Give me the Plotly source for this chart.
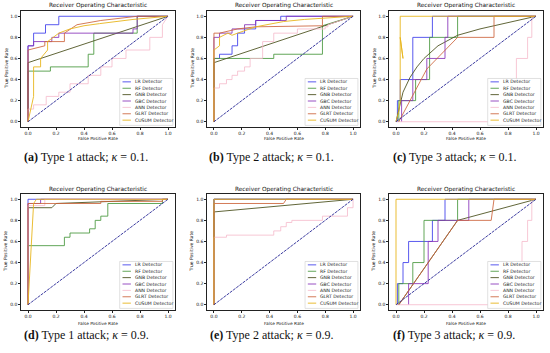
import plotly.graph_objects as go

W, H = 550, 353

DETECTORS = ["LR", "RF", "GNB", "GBC", "ANN", "GLRT", "CUSUM"]
LEGEND_NAMES = [d + " Detector" for d in DETECTORS]
TICKS = [0.0, 0.2, 0.4, 0.6, 0.8, 1.0]
TICK_LABELS = ["0.0", "0.2", "0.4", "0.6", "0.8", "1.0"]
CHANCE = [0.0, 1.0]

# ---------- (a) Type 1 attack, kappa = 0.1 ----------
a_fpr = {
    "LR": [0, 0, 0.04, 0.04, 0.125, 0.125, 0.22, 0.22, 1],
    "RF": [0, 0, 0.16, 0.16, 0.43, 0.43, 0.47, 0.47, 0.78, 0.78, 1],
    "GNB": [0, 0, 1],
    "GBC": [0, 0, 0.04, 0.04, 0.17, 0.17, 0.22, 0.22, 0.75, 0.75, 0.78, 0.78, 1],
    "ANN": [0, 0, 0.04, 0.04, 0.13, 0.13, 0.22, 0.22, 0.3, 0.3, 0.43, 0.43, 0.52, 0.52, 0.6, 0.6, 0.7, 0.7, 0.87, 0.87, 0.96, 0.96, 1],
    "GLRT": [0, 0, 0.12, 0.12, 0.26, 0.26, 0.35, 0.52, 0.78, 1],
    "CUSUM": [0, 0.04, 0.04, 0.09, 0.09, 0.14, 0.14, 0.22, 0.3, 0.4, 0.51, 0.75, 1],
}
a_tpr = {
    "LR": [0, 0.72, 0.72, 0.84, 0.84, 0.92, 0.92, 1, 1],
    "RF": [0, 0.48, 0.48, 0.52, 0.52, 0.64, 0.64, 0.84, 0.84, 1, 1],
    "GNB": [0, 0.56, 1],
    "GBC": [0, 0.72, 0.72, 0.76, 0.76, 0.8, 0.8, 0.84, 0.84, 0.88, 0.88, 1, 1],
    "ANN": [0, 0.12, 0.12, 0.16, 0.16, 0.24, 0.24, 0.28, 0.28, 0.36, 0.36, 0.44, 0.44, 0.52, 0.52, 0.6, 0.6, 0.68, 0.68, 0.8, 0.8, 0.92, 1],
    "GLRT": [0, 0.68, 0.72, 0.76, 0.76, 0.84, 0.92, 0.96, 1, 1],
    "CUSUM": [0, 0.24, 0.52, 0.52, 0.6, 0.68, 0.76, 0.84, 0.88, 0.91, 0.93, 0.97, 1],
}

# ---------- (b) Type 2 attack, kappa = 0.1 ----------
b_fpr = {
    "LR": [0, 0, 0.04, 0.04, 0.13, 0.13, 0.17, 0.17, 0.22, 0.22, 0.3, 0.3, 0.48, 0.48, 1],
    "RF": [0, 0, 0.43, 0.43, 0.78, 0.78, 1],
    "GNB": [0, 0, 1],
    "GBC": [0, 0, 0.04, 0.04, 0.13, 0.13, 0.22, 0.22, 0.3, 0.3, 0.52, 0.52, 1],
    "ANN": [0, 0, 0.04, 0.04, 0.09, 0.09, 0.13, 0.13, 0.17, 0.17, 0.22, 0.22, 0.26, 0.26, 0.35, 0.35, 0.43, 0.43, 0.6, 0.6, 0.8, 0.8, 0.82, 0.82, 1],
    "GLRT": [0, 0, 0.04, 0.1, 0.17, 0.3, 0.78, 0.78, 1],
    "CUSUM": [0, 0, 0.04, 0.04, 0.1, 0.13, 0.17, 0.3, 0.5, 0.65, 1],
}
b_tpr = {
    "LR": [0, 0.6, 0.6, 0.64, 0.64, 0.72, 0.72, 0.84, 0.84, 0.88, 0.88, 0.96, 0.96, 1, 1],
    "RF": [0, 0.6, 0.6, 0.64, 0.64, 0.91, 1],
    "GNB": [0, 0.56, 1],
    "GBC": [0, 0.8, 0.8, 0.84, 0.84, 0.88, 0.88, 0.92, 0.92, 0.96, 0.96, 1, 1],
    "ANN": [0, 0.32, 0.32, 0.36, 0.36, 0.4, 0.4, 0.44, 0.44, 0.48, 0.48, 0.52, 0.52, 0.6, 0.6, 0.76, 0.76, 0.84, 0.84, 0.88, 0.88, 0.9, 0.9, 0.92, 1],
    "GLRT": [0, 0.84, 0.84, 0.86, 0.88, 0.9, 0.91, 1, 1],
    "CUSUM": [0, 0.68, 0.72, 0.8, 0.84, 0.82, 0.84, 0.9, 0.95, 0.97, 1],
}

# ---------- (c) Type 3 attack, kappa = 0.1 ----------
c_fpr = {
    "LR": [0.01, 0.01, 0.03, 0.03, 0.12, 0.12, 0.26, 0.26, 1],
    "RF": [0.02, 0.02, 0.14, 0.14, 0.24, 0.24, 0.44, 0.44, 1],
    "GNB": [0, 0.05, 0.1, 0.15, 0.2, 0.3, 0.44, 0.6, 0.8, 1],
    "GBC": [0.04, 0.04, 0.12, 0.12, 0.22, 0.22, 0.35, 0.35, 0.37, 0.37, 1],
    "ANN": [0, 0.05, 0.86, 0.86, 0.94, 0.94, 0.97, 0.97, 1],
    "GLRT": [0.02, 0.1, 0.22, 0.44, 0.7, 0.7, 1],
    "CUSUM": [0, 0.02, 0.03, 0.03, 0.05, 0.03, 0.03, 1],
}
c_tpr = {
    "LR": [0, 0.2, 0.2, 0.4, 0.4, 0.8, 0.8, 1, 1],
    "RF": [0, 0.2, 0.2, 0.4, 0.4, 0.8, 0.8, 1, 1],
    "GNB": [0, 0.28, 0.42, 0.52, 0.6, 0.72, 0.82, 0.88, 0.94, 1],
    "GBC": [0, 0.2, 0.2, 0.4, 0.4, 0.6, 0.6, 0.8, 0.8, 1, 1],
    "ANN": [0, 0, 0, 0.6, 0.6, 0.8, 0.8, 1, 1],
    "GLRT": [0, 0.2, 0.5, 0.8, 0.8, 1, 1],
    "CUSUM": [0, 0.1, 0.2, 0.8, 0.6, 0.8, 1, 1],
}

# ---------- (d) Type 1 attack, kappa = 0.9 ----------
d_fpr = {
    "LR": [0, 0, 1],
    "RF": [0, 0, 0.26, 0.26, 0.3, 0.3, 0.44, 0.44, 0.48, 0.48, 0.52, 0.52, 0.57, 0.57, 0.96, 0.96, 1],
    "GNB": [0, 0, 0.17, 0.2, 1],
    "GBC": [0, 0, 0.09, 0.09, 1],
    "ANN": [0, 0, 0.12, 0.12, 1],
    "GLRT": [0, 0, 0.52, 0.52, 0.96, 0.96, 1],
    "CUSUM": [0, 0.04, 0.06, 1],
}
d_tpr = {
    "LR": [0, 1, 1],
    "RF": [0, 0.56, 0.56, 0.64, 0.64, 0.68, 0.68, 0.72, 0.72, 0.8, 0.8, 0.84, 0.84, 0.96, 0.96, 1, 1],
    "GNB": [0, 0.92, 0.92, 0.96, 1],
    "GBC": [0, 0.96, 0.96, 1, 1],
    "ANN": [0, 0.94, 0.94, 1, 1],
    "GLRT": [0, 0.96, 0.96, 0.98, 0.98, 1, 1],
    "CUSUM": [0, 0.96, 1, 1],
}

# ---------- (e) Type 2 attack, kappa = 0.9 ----------
e_fpr = {
    "LR": [0, 0, 1],
    "RF": [0, 0, 1],
    "GNB": [0, 0, 1],
    "GBC": [0, 0, 1],
    "ANN": [0, 0, 0.09, 0.09, 0.43, 0.43, 0.48, 0.48, 0.52, 0.52, 0.56, 0.56, 0.78, 0.78, 0.96, 0.96, 1, 1],
    "GLRT": [0, 0, 0.5, 0.52, 1],
    "CUSUM": [0, 0, 1],
}
e_tpr = {
    "LR": [0, 1, 1],
    "RF": [0, 1, 1],
    "GNB": [0, 0.88, 1],
    "GBC": [0, 1, 1],
    "ANN": [0, 0.64, 0.64, 0.66, 0.66, 0.7, 0.7, 0.74, 0.74, 0.78, 0.78, 0.8, 0.8, 0.84, 0.84, 0.92, 0.92, 1],
    "GLRT": [0, 0.96, 0.96, 1, 1],
    "CUSUM": [0, 1, 1],
}

# ---------- (f) Type 3 attack, kappa = 0.9 ----------
f_fpr = {
    "LR": [0.01, 0.01, 0.05, 0.05, 0.09, 0.09, 0.26, 0.26, 0.35, 0.35, 1],
    "RF": [0.02, 0.02, 0.12, 0.12, 0.2, 0.2, 0.44, 0.44, 1],
    "GNB": [0.02, 0.44, 1],
    "GBC": [0.09, 0.09, 0.23, 0.23, 0.3, 0.3, 0.52, 0.52, 1],
    "ANN": [0, 0.09, 0.9, 0.9, 0.94, 0.94, 0.97, 0.97, 1],
    "GLRT": [0.02, 0.44, 0.68, 0.7, 1],
    "CUSUM": [0, 0, 1],
}
f_tpr = {
    "LR": [0, 0.2, 0.2, 0.4, 0.4, 0.6, 0.6, 0.8, 0.8, 1, 1],
    "RF": [0, 0.2, 0.2, 0.4, 0.4, 0.8, 0.8, 1, 1],
    "GNB": [0, 0.8, 1],
    "GBC": [0, 0.2, 0.2, 0.6, 0.6, 0.8, 0.8, 1, 1],
    "ANN": [0, 0, 0, 0.6, 0.6, 0.8, 0.8, 1, 1],
    "GLRT": [0, 0.8, 0.8, 1, 1],
    "CUSUM": [0, 1, 1],
}

CAPTIONS = [
    "<b>(a)</b> Type 1 attack; <i>κ</i> = 0.1.",
    "<b>(b)</b> Type 2 attack; <i>κ</i> = 0.1.",
    "<b>(c)</b> Type 3 attack; <i>κ</i> = 0.1.",
    "<b>(d)</b> Type 1 attack; <i>κ</i> = 0.9.",
    "<b>(e)</b> Type 2 attack; <i>κ</i> = 0.9.",
    "<b>(f)</b> Type 3 attack; <i>κ</i> = 0.9.",
]

PANELS = [(a_fpr, a_tpr), (b_fpr, b_tpr), (c_fpr, c_tpr),
          (d_fpr, d_tpr), (e_fpr, e_tpr), (f_fpr, f_tpr)]

COLORS = {
    "LR": "rgba(60,60,235,0.85)",
    "RF": "rgba(70,150,60,0.85)",
    "GNB": "rgba(80,85,35,0.9)",
    "GBC": "rgba(135,50,185,0.85)",
    "ANN": "rgba(245,185,202,0.8)",
    "GLRT": "rgba(205,100,60,0.85)",
    "CUSUM": "rgba(232,182,30,0.9)",
}
CHANCE_COLOR = "rgba(40,40,150,0.9)"

# layout geometry (pixels)
COL_X = [(21, 175), (207, 360), (389, 543)]
ROW_Y = [(11, 127), (194, 310)]
TITLE_Y = [6, 190]
XLABEL_Y = [139, 323]
CAPTION_Y = [157, 335]
CAPTION_DX = -12

FONT = "DejaVu Sans"


def px(x):
    return x / W


def py(y):
    return 1 - y / H


fig = go.Figure()
annotations = []
shapes = []

for i, (fpr, tpr) in enumerate(PANELS):
    n = i + 1
    r, c = divmod(i, 3)
    xa = "x" if n == 1 else f"x{n}"
    ya = "y" if n == 1 else f"y{n}"
    for det in DETECTORS:
        fig.add_trace(go.Scatter(
            x=fpr[det], y=tpr[det], mode="lines", xaxis=xa, yaxis=ya,
            line=dict(color=COLORS[det], width=1), name=det + " Detector",
            showlegend=False, hoverinfo="skip"))
    fig.add_trace(go.Scatter(
        x=CHANCE, y=CHANCE, mode="lines", xaxis=xa, yaxis=ya,
        line=dict(color=CHANCE_COLOR, width=1, dash="3px,1px"),
        showlegend=False, hoverinfo="skip"))

    x0, x1 = COL_X[c]
    y0, y1 = ROW_Y[r]
    axis_common = dict(
        range=[-0.05, 1.05], tickvals=TICKS, ticktext=TICK_LABELS,
        showgrid=False, zeroline=False, showline=True, mirror=True,
        linecolor="#222", linewidth=0.6, ticks="outside", ticklen=2,
        tickwidth=0.5, tickcolor="#222",
        tickfont=dict(family=FONT, size=4.5, color="#111"),
    )
    fig.update_layout(**{
        ("xaxis" if n == 1 else f"xaxis{n}"): dict(
            domain=[px(x0), px(x1)], anchor=ya, **axis_common),
        ("yaxis" if n == 1 else f"yaxis{n}"): dict(
            domain=[py(y1), py(y0)], anchor=xa, **axis_common),
    })

    cx = (x0 + x1) / 2
    annotations.append(dict(
        text="Receiver Operating Characteristic", x=px(cx), y=py(TITLE_Y[r]),
        xref="paper", yref="paper", showarrow=False, xanchor="center", yanchor="middle",
        font=dict(family=FONT, size=5.8, color="#111")))
    annotations.append(dict(
        text="False Positive Rate", x=px(cx), y=py(XLABEL_Y[r]),
        xref="paper", yref="paper", showarrow=False, xanchor="center", yanchor="middle",
        font=dict(family=FONT, size=4.3, color="#111")))
    annotations.append(dict(
        text="True Positive Rate", x=px(x0 - 15), y=py((y0 + y1) / 2),
        xref="paper", yref="paper", showarrow=False, textangle=-90,
        xanchor="center", yanchor="middle",
        font=dict(family=FONT, size=4.5, color="#111")))
    annotations.append(dict(
        text=CAPTIONS[i], x=px(cx + CAPTION_DX), y=py(CAPTION_Y[r]),
        xref="paper", yref="paper", showarrow=False, xanchor="center", yanchor="middle",
        font=dict(family="Liberation Serif", size=12, color="#111")))

    # legend box (drawn by hand so it fits the small panel)
    shapes.append(dict(type="rect", xref=xa, yref=ya, x0=0.655, x1=1.035,
                       y0=-0.035, y1=0.41, fillcolor="white",
                       line=dict(color="#cccccc", width=0.6), layer="above"))
    for k, det in enumerate(DETECTORS):
        yy = 0.378 - k * 0.0605
        shapes.append(dict(type="line", xref=xa, yref=ya, x0=0.675, x1=0.735,
                           y0=yy, y1=yy, line=dict(color=COLORS[det], width=1),
                           layer="above"))
        annotations.append(dict(
            text=LEGEND_NAMES[k], x=0.748, y=yy, xref=xa, yref=ya,
            showarrow=False, xanchor="left", yanchor="middle",
            font=dict(family=FONT, size=4.6, color="#222")))

fig.update_layout(
    width=W, height=H, margin=dict(l=0, r=0, t=0, b=0),
    paper_bgcolor="white", plot_bgcolor="white", showlegend=False,
    annotations=annotations, shapes=shapes,
)

fig.write_html("out.html", config={"displayModeBar": False},
               post_script="document.body.style.margin='0px';document.body.style.overflow='hidden';")
